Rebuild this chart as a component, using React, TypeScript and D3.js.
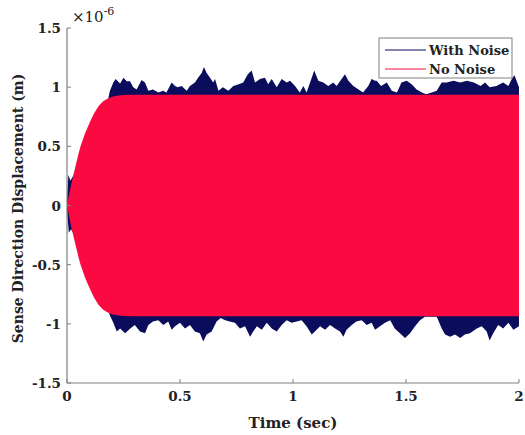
import React from "react";
import * as d3 from "d3";

const xTicks = [0, 0.5, 1, 1.5, 2];
const xTickLabels = ["0", "0.5", "1", "1.5", "2"];
const yTicks = [-1.5, -1, -0.5, 0, 0.5, 1, 1.5];
const yTickLabels = ["-1.5", "-1", "-0.5", "0", "0.5", "1", "1.5"];

// No-noise envelope (×1e-6 m)
const redT = [0, 0.01, 0.02, 0.035, 0.05, 0.06, 0.08, 0.1, 0.12, 0.14, 0.16, 0.18, 0.2, 0.22, 0.25, 0.3, 2.0];
const redV = [0, 0.1, 0.19, 0.31, 0.43, 0.5, 0.61, 0.7, 0.78, 0.84, 0.88, 0.905, 0.92, 0.928, 0.933, 0.935, 0.935];

// With-noise upper envelope [t, value]
const blueUpper: [number, number][] = [
  [0, 0.04], [0.006, 0.26], [0.015, 0.21], [0.03, 0.26], [0.05, 0.4], [0.08, 0.58], [0.1, 0.67],
  [0.12, 0.75], [0.14, 0.81], [0.16, 0.85], [0.18, 0.88], [0.19, 0.97], [0.205, 1.04], [0.215, 1.07],
  [0.235, 1.03], [0.25, 1.08], [0.264, 1.05], [0.279, 1.05], [0.293, 1.0], [0.308, 0.98], [0.33, 1.06],
  [0.345, 1.04], [0.36, 0.97], [0.38, 0.98], [0.404, 0.955], [0.426, 0.97], [0.44, 0.955], [0.463, 1.04],
  [0.478, 1.01], [0.49, 1.0], [0.507, 1.01], [0.53, 0.97], [0.544, 1.01], [0.566, 1.04], [0.58, 1.08],
  [0.596, 1.12], [0.606, 1.17], [0.618, 1.12], [0.633, 1.08], [0.647, 1.04], [0.655, 1.07], [0.67, 0.97],
  [0.69, 1.0], [0.714, 0.97], [0.736, 1.01], [0.76, 1.025], [0.78, 1.04], [0.8, 1.11], [0.817, 1.14],
  [0.832, 1.04], [0.854, 1.07], [0.876, 1.08], [0.89, 1.025], [0.906, 1.07], [0.928, 1.0], [0.95, 1.07],
  [0.972, 1.04], [0.987, 1.054], [1.009, 1.01], [1.03, 0.955], [1.046, 1.01], [1.06, 0.955], [1.083, 1.08],
  [1.094, 1.14], [1.112, 1.054], [1.134, 1.04], [1.156, 1.01], [1.178, 1.04], [1.193, 1.01], [1.215, 1.07],
  [1.23, 1.11], [1.245, 1.054], [1.267, 1.01], [1.29, 0.98], [1.31, 0.955], [1.333, 1.01], [1.348, 1.07],
  [1.363, 1.054], [1.37, 1.054], [1.39, 1.01], [1.415, 1.04], [1.437, 0.97], [1.46, 0.955], [1.48, 1.04],
  [1.503, 1.054], [1.525, 1.025], [1.547, 0.98], [1.57, 0.955], [1.59, 0.94], [1.614, 0.955], [1.636, 0.97],
  [1.658, 1.04], [1.68, 1.04], [1.71, 1.054], [1.74, 1.04], [1.77, 1.054], [1.8, 1.04], [1.83, 1.01],
  [1.85, 1.04], [1.87, 1.0], [1.9, 1.01], [1.93, 1.04], [1.953, 1.01], [1.968, 1.07], [1.98, 1.1], [2.0, 1.0],
];

// With-noise lower envelope [t, value]
const blueLower: [number, number][] = [
  [0, -0.04], [0.008, -0.23], [0.018, -0.2], [0.035, -0.26], [0.05, -0.4], [0.08, -0.57], [0.1, -0.66],
  [0.12, -0.74], [0.14, -0.8], [0.16, -0.84], [0.18, -0.87], [0.19, -0.93], [0.205, -0.99], [0.22, -1.065],
  [0.235, -1.04], [0.257, -1.08], [0.28, -1.04], [0.3, -1.01], [0.323, -1.065], [0.345, -1.08], [0.36, -1.01],
  [0.38, -0.98], [0.404, -0.97], [0.426, -1.01], [0.448, -0.98], [0.463, -1.05], [0.478, -1.02], [0.5, -0.99],
  [0.522, -1.04], [0.544, -1.01], [0.566, -1.065], [0.588, -1.08], [0.603, -1.15], [0.618, -1.09], [0.64, -1.065],
  [0.662, -0.98], [0.68, -0.95], [0.7, -0.97], [0.72, -0.98], [0.743, -0.99], [0.765, -1.04], [0.788, -1.02],
  [0.81, -1.11], [0.824, -1.065], [0.84, -1.02], [0.862, -1.05], [0.884, -0.99], [0.906, -1.04], [0.928, -1.065],
  [0.95, -1.01], [0.972, -0.97], [0.994, -0.99], [1.016, -0.98], [1.038, -0.97], [1.06, -1.02], [1.083, -1.09],
  [1.097, -1.065], [1.12, -1.02], [1.142, -1.05], [1.164, -1.01], [1.186, -1.04], [1.208, -1.065], [1.223, -1.11],
  [1.237, -1.05], [1.26, -1.01], [1.28, -0.98], [1.304, -0.97], [1.326, -1.01], [1.348, -0.99], [1.363, -1.05],
  [1.385, -1.02], [1.407, -0.99], [1.43, -0.97], [1.45, -1.04], [1.473, -1.08], [1.496, -1.12], [1.518, -1.08],
  [1.54, -1.02], [1.562, -0.97], [1.584, -0.94], [1.606, -0.94], [1.636, -0.94], [1.658, -1.04], [1.673, -1.09],
  [1.695, -1.11], [1.717, -1.09], [1.74, -1.12], [1.76, -1.09], [1.783, -1.08], [1.813, -1.04], [1.835, -1.02],
  [1.857, -1.065], [1.87, -1.14], [1.886, -1.08], [1.908, -1.01], [1.93, -1.04], [1.953, -0.99], [1.975, -1.05],
  [2.0, -1.02],
];

const seriesNames = ["With Noise", "No Noise"];
const BLUE = "#0c0c5c";
const RED = "#fa0a40";
const AXIS = "#808080";
const FONT = "'DejaVu Serif', serif";

export default function App() {
  const W = 525, H = 435;
  const left = 67, right = 519, top = 28, bottom = 383;
  const x = d3.scaleLinear().domain([0, 2]).range([left, right]);
  const y = d3.scaleLinear().domain([-1.5, 1.5]).range([bottom, top]);

  const poly = d3.line<[number, number]>().x((d) => x(d[0])).y((d) => y(d[1]));
  const bluePts: [number, number][] = [...blueUpper, ...blueLower.slice().reverse()];
  const bluePath = poly(bluePts) + "Z";

  const redData = redT.map((t, i) => ({ t, v: redV[i] }));
  const redArea = d3
    .area<{ t: number; v: number }>()
    .x((d) => x(d.t))
    .y0((d) => y(-d.v))
    .y1((d) => y(d.v));
  const redPath = redArea(redData) || "";

  return (
    <svg width={W} height={H} style={{ position: "absolute", left: 0, top: 0, background: "#fff" }}>
      <rect x={0} y={0} width={W} height={H} fill="#fff" />
      <path d={bluePath} fill={BLUE} />
      <path d={redPath} fill={RED} />

      {/* axes */}
      <line x1={left} y1={top} x2={left} y2={bottom} stroke={AXIS} strokeWidth={1.2} />
      <line x1={left} y1={bottom} x2={right} y2={bottom} stroke={AXIS} strokeWidth={1.2} />
      {xTicks.map((t, i) => (
        <g key={"xt" + i}>
          <line x1={x(t)} x2={x(t)} y1={bottom} y2={bottom - 4} stroke={AXIS} strokeWidth={1} />
          <text x={x(t)} y={401} textAnchor="middle" fontFamily={FONT} fontWeight="bold" fontSize={13.5} fill="#222">
            {xTickLabels[i]}
          </text>
        </g>
      ))}
      {yTicks.map((t, i) => (
        <g key={"yt" + i}>
          <line x1={left} x2={left + 4} y1={y(t)} y2={y(t)} stroke={AXIS} strokeWidth={1} />
          <text x={61} y={y(t) + 5} textAnchor="end" fontFamily={FONT} fontWeight="bold" fontSize={13.5} fill="#222">
            {yTickLabels[i]}
          </text>
        </g>
      ))}

      {/* exponent */}
      <text x={72} y={22} fontFamily={FONT} fontSize={15} fill="#222">
        ×10
        <tspan dy={-7} fontSize={11}>-6</tspan>
      </text>

      {/* axis labels */}
      <text x={(left + right) / 2} y={428} textAnchor="middle" fontFamily={FONT} fontWeight="bold" fontSize={15} fill="#222">
        Time (sec)
      </text>
      <text
        transform={`translate(23, ${(top + bottom) / 2 + 3}) rotate(-90)`}
        textAnchor="middle"
        fontFamily={FONT}
        fontWeight="bold"
        fontSize={14}
        fill="#222"
      >
        Sense Direction Displacement (m)
      </text>

      {/* legend */}
      <rect x={379} y={38} width={133} height={40} fill="#fff" stroke={AXIS} strokeWidth={1} />
      <line x1={385} x2={426} y1={50} y2={50} stroke={BLUE} strokeWidth={1} />
      <line x1={385} x2={426} y1={69} y2={69} stroke={RED} strokeWidth={1} />
      <text x={429} y={54.5} fontFamily={FONT} fontWeight="bold" fontSize={13} fill="#222">
        {seriesNames[0]}
      </text>
      <text x={429} y={73.5} fontFamily={FONT} fontWeight="bold" fontSize={13} fill="#222">
        {seriesNames[1]}
      </text>
    </svg>
  );
}
